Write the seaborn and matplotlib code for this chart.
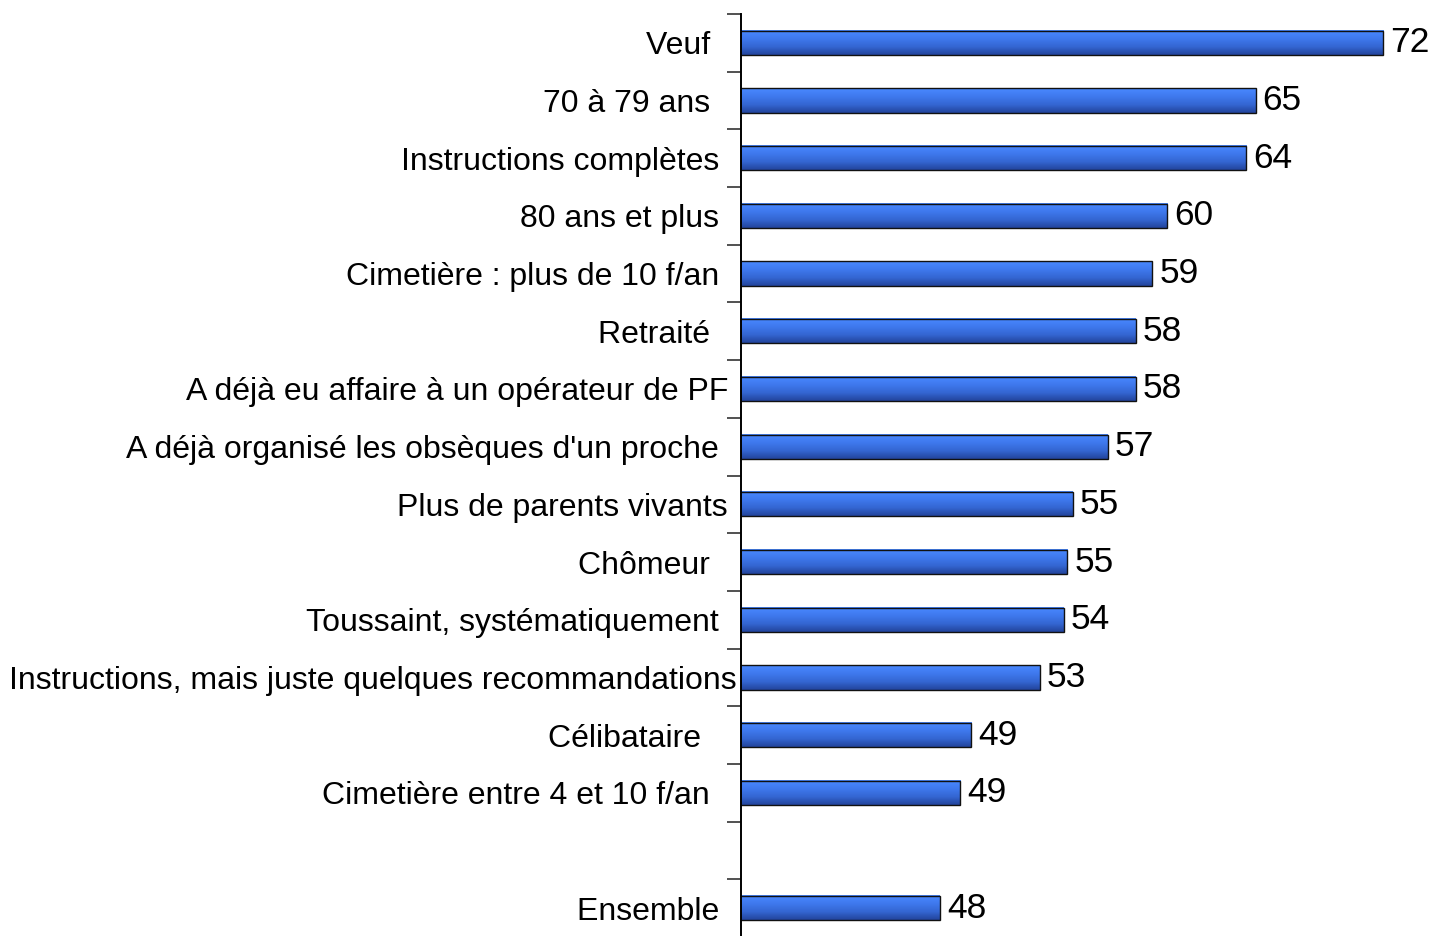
import matplotlib
matplotlib.use("Agg")
import matplotlib.pyplot as plt
import numpy as np
import pandas as pd
import seaborn as sns
from matplotlib.colors import LinearSegmentedColormap
from matplotlib.ticker import FixedLocator

# données (libellés tels qu'affichés, espaces finaux compris)
categories = [
    "Veuf   ",
    "70 à 79 ans   ",
    "Instructions complètes  ",
    "80 ans et plus  ",
    "Cimetière : plus de 10 f/an  ",
    "Retraité   ",
    "A déjà eu affaire à un opérateur de PF ",
    "A déjà organisé les obsèques d'un proche  ",
    "Plus de parents vivants ",
    "Chômeur   ",
    "Toussaint, systématiquement  ",
    "Instructions, mais juste quelques recommandations",
    "Célibataire    ",
    "Cimetière entre 4 et 10 f/an   ",
    "Ensemble  ",
]
# longueurs des barres et étiquettes affichées
valeurs = [72.0, 65.1, 64.6, 60.3, 59.5, 58.6, 58.6, 57.1, 55.2, 54.9, 54.7, 53.4, 49.7, 49.1, 48.0]
etiquettes = ["72", "65", "64", "60", "59", "58", "58", "57", "55", "55", "54", "53", "49", "49", "48"]
ordre = categories[:-1] + [""] + categories[-1:]

df = pd.DataFrame({"cat": categories, "val": valeurs})

sns.set_style("white")
plt.rcParams["font.family"] = ["Liberation Sans", "DejaVu Sans"]

fig = plt.figure(figsize=(14.31, 9.36), dpi=100)
ax = fig.add_axes([741 / 1431, -1 / 936, 690 / 1431, 923 / 936])

sns.barplot(data=df, x="val", y="cat", order=ordre, color="#3366dd",
            width=0.42, edgecolor="#111111", linewidth=1, ax=ax)

xmin, xmax = 37.22, 74.6
ax.set_xlim(xmin, xmax)
ax.set_xlabel("")
ax.set_ylabel("")
ax.set_xticks([])

# dégradé bleu sur chaque barre
cmap = LinearSegmentedColormap.from_list(
    "bleu", ["#4989ff", "#3f79ee", "#3466d2", "#23449c"])
grad = np.linspace(0, 1, 64).reshape(-1, 1)
for patch in ax.patches:
    x0, y0 = patch.get_x(), patch.get_y()
    w, h = patch.get_width(), patch.get_height()
    if np.isnan(w) or w == 0:
        continue
    ax.imshow(grad, cmap=cmap, aspect="auto", origin="upper",
              extent=[max(x0, xmin), x0 + w, y0 + h, y0],
              zorder=patch.get_zorder())
    patch.set_facecolor("none")
    patch.set_zorder(patch.get_zorder() + 0.1)
ax.set_xlim(xmin, xmax)
ax.set_ylim(len(ordre) - 0.5, -0.5)

for c in ax.containers:
    ax.bar_label(c, labels=etiquettes, padding=5, fontsize=25.5, color="black")

# axe et graduations
for s in ["top", "right", "bottom"]:
    ax.spines[s].set_visible(False)
ax.spines["left"].set_color("black")
ax.spines["left"].set_linewidth(1.4)
ax.yaxis.set_minor_locator(FixedLocator(np.arange(-0.5, len(ordre), 1)))
ax.tick_params(axis="y", which="minor", length=10, width=1.2, color="#333333", left=True)
ax.tick_params(axis="y", which="major", length=0, pad=3, labelsize=23, labelcolor="black")

fig.savefig("out.png", dpi=100)
